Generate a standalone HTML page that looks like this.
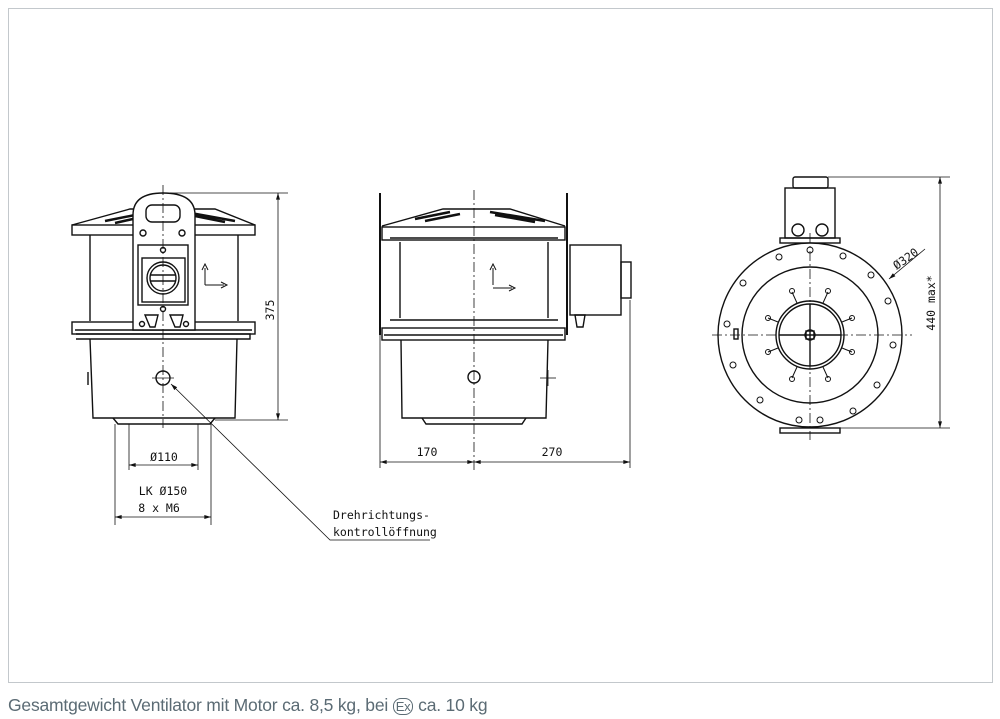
<!DOCTYPE html>
<html><head><meta charset="utf-8"><style>
html,body{margin:0;padding:0;background:#fff;width:1000px;height:719px;overflow:hidden}
svg{position:absolute;left:0;top:0}
.t{font-family:"DejaVu Sans Mono","Liberation Mono",monospace;font-size:11.5px;fill:#111}
.foot{position:absolute;left:8px;top:695px;font-family:"Liberation Sans",sans-serif;font-size:17.5px;color:#5b6b74;white-space:nowrap;letter-spacing:-0.2px}
</style></head><body>
<svg width="1000" height="719" viewBox="0 0 1000 719">
<defs>
<marker id="a" viewBox="0 0 10 6" refX="10" refY="3" markerWidth="9" markerHeight="5" orient="auto-start-reverse"><path d="M0,0L10,3L0,6z" fill="#111"/></marker>
</defs>
<rect x="8.5" y="8.5" width="984" height="674" fill="none" stroke="#c3c8cc" stroke-width="1"/>
<g fill="none" stroke="#111" stroke-width="1.4">
<path d="M72,225 L130,209 L215,209 L255,225"/>
<path d="M105,221 L150,212 M115,223 L155,214 M185,212 L235,221 M190,215 L225,222" stroke-width="2.5"/>
<rect x="72" y="225" width="183" height="10"/>
<line x1="90" y1="235" x2="90" y2="321"/><line x1="238" y1="235" x2="238" y2="321"/>
<rect x="72" y="322" width="183" height="12"/>
<line x1="75" y1="330" x2="252" y2="330"/>
<path d="M76,334 L250,334 L250,339 L76,339"/>
<path d="M90,339 L93,418 L235,418 L237,339"/>
<path d="M113,418 L118,424 L210,424 L215,418"/>
<line x1="88" y1="372" x2="88" y2="385"/>
<path d="M133,330 L133,215 Q133,193 163,193 Q195,193 195,215 L195,330 Z" fill="#fff"/>
<rect x="146" y="205" width="34" height="17" rx="6"/>
<circle cx="143" cy="233" r="3"/><circle cx="182" cy="233" r="3"/>
<rect x="138" y="245" width="50" height="60"/>
<rect x="142" y="258" width="43" height="44"/>
<circle cx="163" cy="278" r="16"/><circle cx="163" cy="278" r="13"/>
<line x1="150" y1="275" x2="176" y2="275"/><line x1="150" y1="281" x2="176" y2="281"/>
<circle cx="163" cy="250" r="2.5"/><circle cx="163" cy="309" r="2.5"/>
<path d="M145,315 L158,315 L155,327 L150,327Z M170,315 L183,315 L180,327 L175,327Z"/>
<circle cx="142" cy="324" r="2.5"/><circle cx="186" cy="324" r="2.5"/>
<path d="M205,285 V268 M202,270 L205,264 L208,270 M205,285 H224 M221,282 L227,285 L221,288" stroke-width="1"/>
<circle cx="163" cy="378" r="7"/>
<line x1="152" y1="378" x2="174" y2="378" stroke-width="0.8"/>
<line x1="163" y1="185" x2="163" y2="428" stroke-width="0.8" stroke-dasharray="10,3,2,3"/>
<g stroke-width="0.8">
<line x1="170" y1="193" x2="288" y2="193"/><line x1="215" y1="420" x2="288" y2="420"/>
<line x1="278" y1="193" x2="278" y2="420" marker-start="url(#a)" marker-end="url(#a)"/>
<line x1="129" y1="424" x2="129" y2="470"/><line x1="198" y1="424" x2="198" y2="470"/>
<line x1="129" y1="465" x2="198" y2="465" marker-start="url(#a)" marker-end="url(#a)"/>
<line x1="115" y1="424" x2="115" y2="525"/><line x1="211" y1="424" x2="211" y2="525"/>
<line x1="115" y1="517" x2="211" y2="517" marker-start="url(#a)" marker-end="url(#a)"/>
<polyline points="430,540 330,540 171,384" marker-end="url(#a)"/>
</g>
<line x1="380" y1="193" x2="380" y2="335" stroke-width="2"/>
<line x1="567" y1="193" x2="567" y2="335" stroke-width="2"/>
<path d="M382,226 L443,209 L510,209 L565,226"/>
<path d="M415,219 L450,212 M425,221 L460,214 M490,212 L545,221 M495,215 L535,222" stroke-width="2.5"/>
<rect x="382" y="227" width="183" height="13"/>
<line x1="390" y1="238" x2="558" y2="238"/>
<line x1="400" y1="242" x2="400" y2="318"/><line x1="548" y1="242" x2="548" y2="318"/>
<line x1="390" y1="320" x2="558" y2="320"/>
<rect x="382" y="328" width="183" height="12"/>
<path d="M384,335 L563,335"/>
<path d="M401,340 L402,418 L546,418 L548,340"/>
<path d="M422,418 L426,424 L522,424 L526,418"/>
<rect x="570" y="245" width="51" height="70"/>
<rect x="621" y="262" width="10" height="36"/>
<path d="M575,315 L585,315 L583,327 L577,327Z"/>
<path d="M493,285 V268 M490,270 L493,264 L496,270 M493,288 H512 M509,285 L515,288 L509,291" stroke-width="1"/>
<circle cx="474" cy="377" r="6"/>
<line x1="540" y1="378" x2="556" y2="378" stroke-width="0.8"/><line x1="548" y1="370" x2="548" y2="386" stroke-width="0.8"/>
<line x1="474" y1="190" x2="474" y2="470" stroke-width="0.8" stroke-dasharray="10,3,2,3"/>
<g stroke-width="0.8">
<line x1="380" y1="335" x2="380" y2="468"/><line x1="630" y1="300" x2="630" y2="468"/>
<line x1="380" y1="462" x2="474" y2="462" marker-start="url(#a)" marker-end="url(#a)"/>
<line x1="474" y1="462" x2="630" y2="462" marker-start="url(#a)" marker-end="url(#a)"/>
</g>
<rect x="793" y="177" width="35" height="11" rx="2"/>
<rect x="785" y="188" width="50" height="50"/>
<circle cx="798" cy="230" r="6"/><circle cx="822" cy="230" r="6"/>
<rect x="780" y="238" width="60" height="5"/>
<rect x="780" y="428" width="60" height="5"/>
<circle cx="810" cy="335" r="92" fill="#fff"/>
<circle cx="810" cy="335" r="68"/>
<circle cx="810" cy="335" r="34"/><circle cx="810" cy="335" r="31"/>
<circle cx="810" cy="335" r="5"/><rect x="806" y="331" width="8" height="8"/>
<line x1="779" y1="335" x2="841" y2="335"/><line x1="810" y1="304" x2="810" y2="366"/>
<rect x="734" y="329" width="4" height="10"/>
<g stroke-width="1">
<circle cx="810" cy="250" r="3"/><circle cx="843" cy="256" r="3"/><circle cx="871" cy="275" r="3"/><circle cx="888" cy="301" r="3"/>
<circle cx="893" cy="345" r="3"/><circle cx="877" cy="385" r="3"/><circle cx="853" cy="411" r="3"/><circle cx="820" cy="420" r="3"/>
<circle cx="799" cy="420" r="3"/><circle cx="760" cy="400" r="3"/><circle cx="733" cy="365" r="3"/><circle cx="727" cy="324" r="3"/>
<circle cx="743" cy="283" r="3"/><circle cx="779" cy="257" r="3"/>
</g>
<g stroke-width="1">
<path d="M797,303 L792,292 M823,303 L828,292 M778,322 L768,318 M842,322 L852,318 M778,348 L768,352 M842,348 L852,352 M797,367 L792,378 M823,367 L828,378"/>
<circle cx="792" cy="291" r="2.5"/><circle cx="828" cy="291" r="2.5"/><circle cx="768" cy="318" r="2.5"/><circle cx="852" cy="318" r="2.5"/>
<circle cx="768" cy="352" r="2.5"/><circle cx="852" cy="352" r="2.5"/><circle cx="792" cy="379" r="2.5"/><circle cx="828" cy="379" r="2.5"/>
</g>
<g stroke-width="0.8">
<line x1="712" y1="335" x2="912" y2="335" stroke-dasharray="10,3,2,3"/>
<line x1="810" y1="233" x2="810" y2="440" stroke-dasharray="10,3,2,3"/>
<line x1="828" y1="177" x2="950" y2="177"/><line x1="840" y1="428" x2="950" y2="428"/>
<line x1="940" y1="177" x2="940" y2="428" marker-start="url(#a)" marker-end="url(#a)"/>
<line x1="925" y1="249" x2="889" y2="279" marker-end="url(#a)"/>
</g>
</g>
<g class="t">
<text x="0" y="0" transform="translate(274,310) rotate(-90)" text-anchor="middle">375</text>
<text x="164" y="461" text-anchor="middle">Ø110</text>
<text x="163" y="495" text-anchor="middle">LK Ø150</text>
<text x="159" y="512" text-anchor="middle">8 x M6</text>
<text x="333" y="519">Drehrichtungs-</text>
<text x="333" y="536">kontrollöffnung</text>
<text x="427" y="456" text-anchor="middle">170</text>
<text x="552" y="456" text-anchor="middle">270</text>
<text x="0" y="0" transform="translate(935,303) rotate(-90)" text-anchor="middle">440 max*</text>
<text x="0" y="0" transform="translate(908,262) rotate(-35)" text-anchor="middle">Ø320</text>
</g>
</svg>
<div class="foot">Gesamtgewicht Ventilator mit Motor ca. 8,5 kg, bei <span style="display:inline-block;font-size:13px;border:1px solid #5b6b74;border-radius:8px;padding:0 2px">Ex</span> ca. 10 kg</div>
</body></html>
